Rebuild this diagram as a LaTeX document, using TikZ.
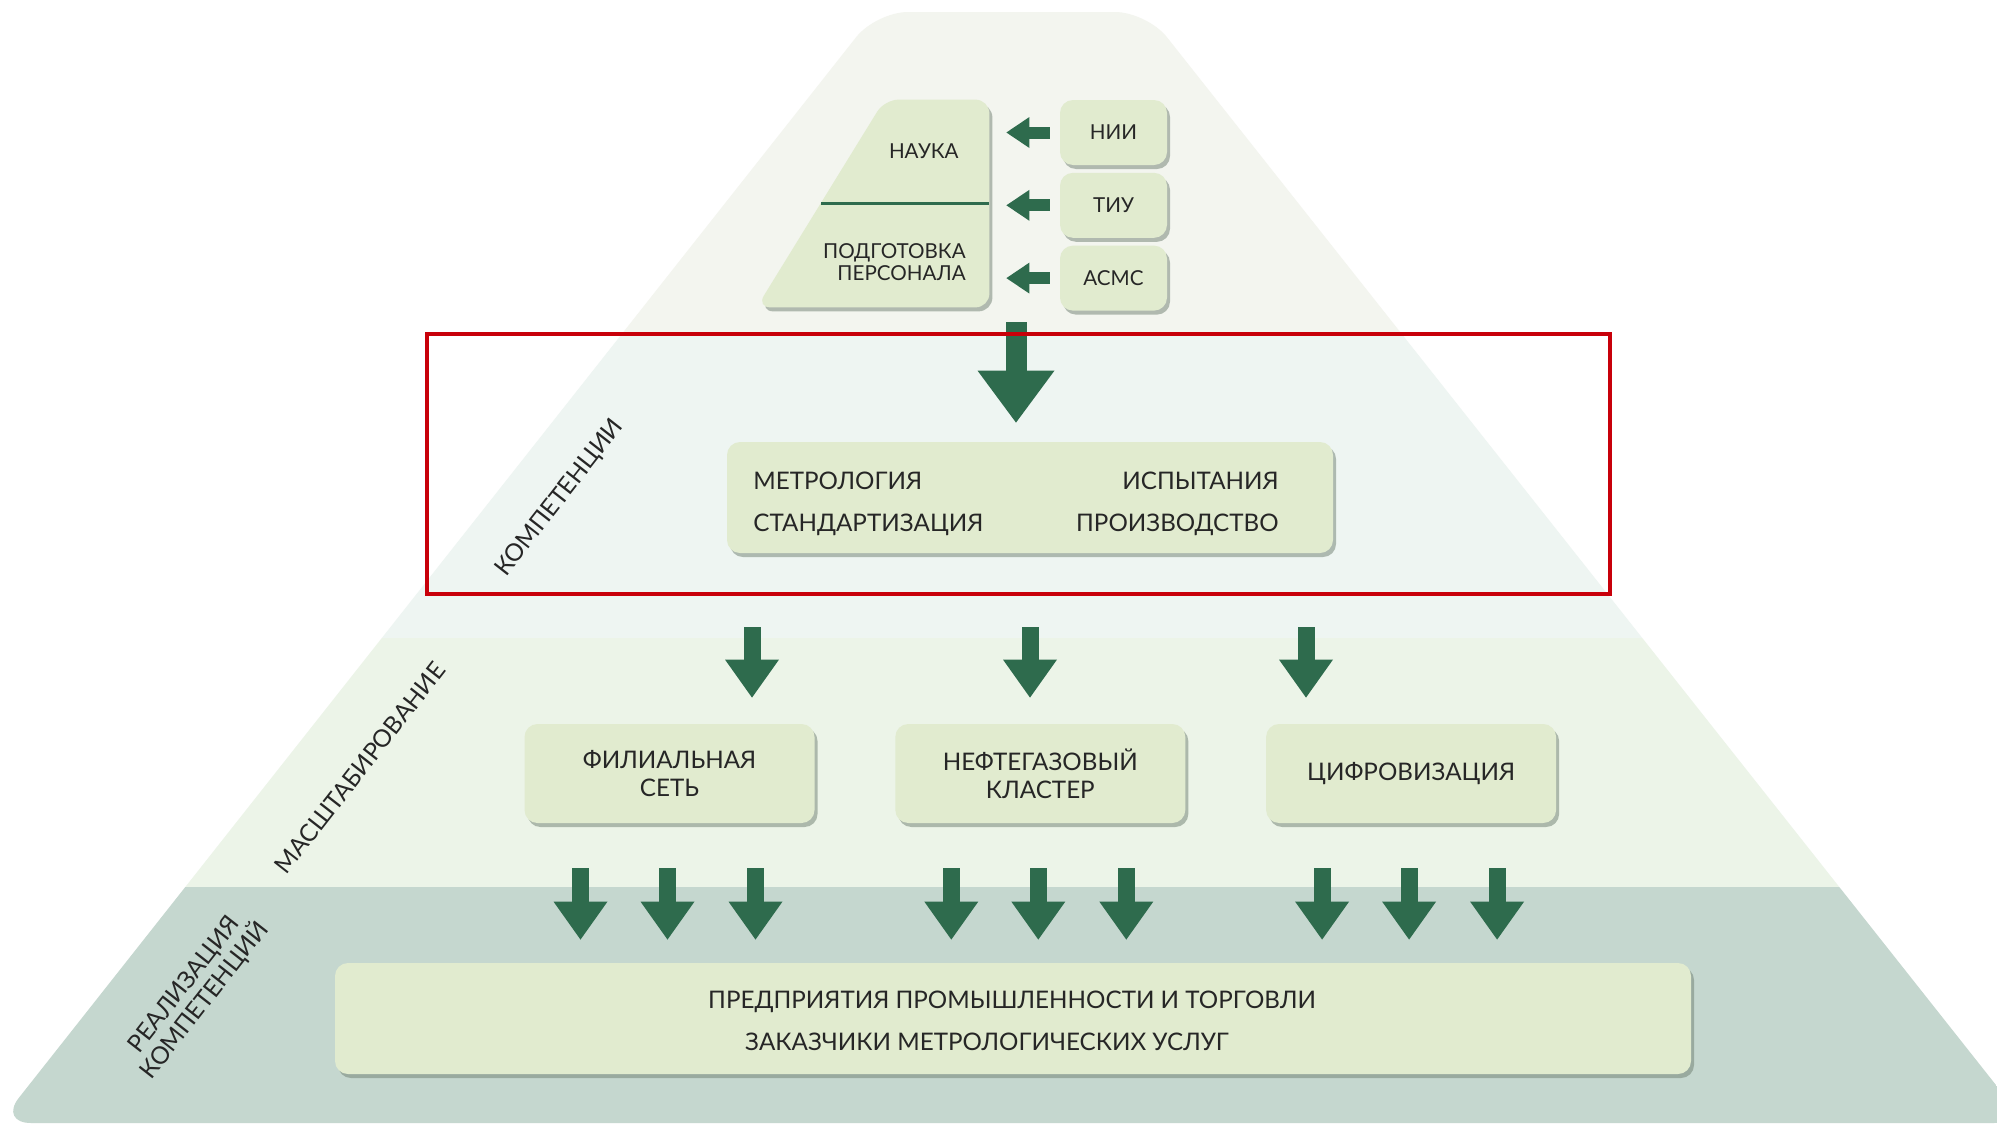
\documentclass[tikz,border=0pt]{standalone}
\usepackage{fontspec}
\setmainfont{Lato}
\usetikzlibrary{positioning,arrows.meta,shadows}

\definecolor{bandtop}{HTML}{F3F5EF}
\definecolor{bandcomp}{HTML}{EEF5F2}
\definecolor{bandscale}{HTML}{ECF4E8}
\definecolor{bandreal}{HTML}{C5D7CF}
\definecolor{boxfill}{HTML}{E1EBCF}
\definecolor{arrgreen}{HTML}{2E6B4D}
\definecolor{shadowgrey}{HTML}{6E7E70}
\definecolor{framered}{HTML}{C8000A}
\definecolor{txtgrey}{HTML}{262626}

\newcommand\toptxt{\fontsize{10.3}{11}\selectfont}
\newcommand\maintxt{\fontsize{12.1}{14}\selectfont}

\tikzset{
	boxshadow/.style={drop shadow={shadow xshift=1.5pt, shadow yshift=-2pt, fill=shadowgrey, opacity=0.5}},
	panel/.style={rounded corners=6.5pt, fill=boxfill, inner sep=0pt, align=center, text=txtgrey, boxshadow},
	smallbox/.style={panel, minimum width=53.5pt, minimum height=32.5pt, font=\toptxt},
	midbox/.style={panel, minimum width=145pt, minimum height=49.5pt, font=\maintxt},
	lbl/.style={inner sep=0pt, text=txtgrey, font=\maintxt},
	bigarrow/.style={draw=arrgreen, line width=10.5pt, -{Triangle[length=26pt, width=38.5pt, line width=0pt]}},
	downarrow/.style={draw=arrgreen, line width=8.5pt, -{Triangle[length=19pt, width=27pt, line width=0pt]}},
	leftarrow/.style={draw=arrgreen, line width=6pt, -{Triangle[length=11.5pt, width=15.5pt, line width=0pt]}},
}

\begin{document}
\begin{tikzpicture}[x=0.5pt, y=-0.5pt]
	\useasboundingbox (0,0) rectangle (1997,1125);
	\fill[white] (0,0) rectangle (1997,1125);

	% pyramid bands
	\begin{scope}
		\clip[rounded corners=16pt] (1000,1123) -- (-1,1123) -- (876,12) -- (1147,12) -- (2026,1123) -- cycle;
		\fill[bandtop] (0,0) rectangle (1997,333);
		\fill[bandcomp] (0,333) rectangle (1997,638);
		\fill[bandscale] (0,638) rectangle (1997,887);
		\fill[bandreal] (0,887) rectangle (1997,1125);
	\end{scope}

	% science and training
	\node[minimum width=116pt, minimum height=103.5pt, inner sep=0pt] (sci) at (873,203.5) {};
	\fill[boxfill, rounded corners=7pt, boxshadow] (sci.east) -- (sci.south east) -- (sci.south west)
		-- ([xshift=64pt]sci.north west) -- (sci.north east) -- cycle;
	\draw[arrgreen, line width=1.5pt] ([xshift=-84pt]sci.east) -- (sci.east);
	\node[lbl, font=\toptxt, anchor=base east] (nauka) at (959,158) {НАУКА};
	\node[lbl, font=\toptxt, anchor=east, align=right] (podg) at (966,262) {ПОДГОТОВКА\\ПЕРСОНАЛА};

	\node[smallbox] (nii) at (1113.5,132.5) {НИИ};
	\node[smallbox, below=3.5pt of nii] (tiu) {ТИУ};
	\node[smallbox, below=3.5pt of tiu] (asms) {АСМС};

	\foreach \s in {nii,tiu,asms}
		\draw[leftarrow] ([xshift=-5pt]\s.west) -- ([xshift=8.5pt]sci.east |- \s.west);

	% competences
	\node[panel, minimum width=303pt, minimum height=55.5pt] (comp) at (1030,497.5) {};
	\node[lbl, anchor=base west] (metr) at (753,489) {МЕТРОЛОГИЯ};
	\node[lbl, anchor=base west] (stand) at (753,531) {СТАНДАРТИЗАЦИЯ};
	\node[lbl, anchor=base east] (test) at (1279,489) {ИСПЫТАНИЯ};
	\node[lbl, anchor=base east] (prod) at (1279,531) {ПРОИЗВОДСТВО};

	\draw[bigarrow] ([xshift=-7pt, yshift=-7.5pt]comp.north |- sci.south) -- ([xshift=-7pt, yshift=9.5pt]comp.north);

	\draw[framered, line width=2pt] (427,333.5) rectangle (1610,594);

	% scaling
	\node[midbox] (fil) at (669.5,773.5) {ФИЛИАЛЬНАЯ\\СЕТЬ};
	\node[midbox, right=40pt of fil] (neft) {НЕФТЕГАЗОВЫЙ\\КЛАСТЕР};
	\node[midbox, right=40pt of neft] (cifr) {ЦИФРОВИЗАЦИЯ};

	\foreach \dx in {-139,0,138}
		\draw[downarrow] ([xshift=\dx*1pt, yshift=-37pt]comp.south) -- ([xshift=\dx*1pt, yshift=13pt]comp.south |- neft.north);

	% realisation
	\node[panel, minimum width=678pt, minimum height=55.5pt] (base) at (1013,1018.5) {};
	\node[lbl, anchor=base] (ent) at (1012,1008) {ПРЕДПРИЯТИЯ ПРОМЫШЛЕННОСТИ И ТОРГОВЛИ};
	\node[lbl, anchor=base] (cust) at (987,1050) {ЗАКАЗЧИКИ МЕТРОЛОГИЧЕСКИХ УСЛУГ};

	\foreach \b in {fil,neft,cifr}
		\foreach \dx in {-44.5,-1,43}
			\draw[downarrow] ([xshift=\dx*1pt, yshift=-22.5pt]\b.south) -- ([xshift=\dx*1pt, yshift=11.5pt]\b.south |- base.north);

	% level names
	\node[lbl, rotate=52] (lcomp) at (560,498) {КОМПЕТЕНЦИИ};
	\node[lbl, rotate=52] (lscale) at (360,768) {МАСШТАБИРОВАНИЕ};
	\node[lbl, rotate=52, align=center, font=\fontsize{12.1}{13}\selectfont] (lreal) at (195,993) {РЕАЛИЗАЦИЯ\\КОМПЕТЕНЦИЙ};
\end{tikzpicture}
\end{document}
